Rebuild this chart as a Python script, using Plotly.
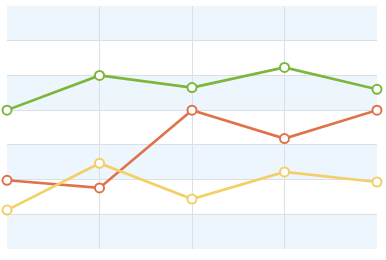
import plotly.graph_objects as go

categories = ["A", "B", "C", "D", "E"]
green = [4.0, 5.0, 4.65, 5.23, 4.6]
orange = [1.98, 1.76, 4.0, 3.18, 4.0]
yellow = [1.12, 2.47, 1.44, 2.22, 1.93]
band_rows = [0, 2, 4, 6]

series = [
    ("Green", green, "#7cb63a"),
    ("Orange", orange, "#e0714b"),
    ("Yellow", yellow, "#f3d066"),
]

fig = go.Figure()
for name, vals, col in series:
    fig.add_trace(go.Scatter(
        x=list(range(len(categories))), y=vals, name=name, mode="lines+markers",
        line=dict(color=col, width=2.6),
        marker=dict(symbol="circle", size=9, color="white", line=dict(color=col, width=2)),
        cliponaxis=False,
    ))

shapes = []
for r in band_rows:
    shapes.append(dict(type="rect", xref="paper", yref="y", x0=0, x1=1, y0=r, y1=r + 1,
                       fillcolor="#edf5fd", line=dict(width=0), layer="below"))

fig.update_layout(
    width=386, height=260,
    margin=dict(l=7, r=9, t=6, b=11),
    paper_bgcolor="white", plot_bgcolor="white",
    showlegend=False,
    shapes=shapes,
    xaxis=dict(range=[0, 4], showgrid=True, gridcolor="#dbe0e7", gridwidth=1,
               zeroline=False, showticklabels=False, ticks="", dtick=1,
               showline=False),
    yaxis=dict(range=[0, 7], showgrid=True, gridcolor="#dbe0e7", gridwidth=1,
               zeroline=False, showticklabels=False, ticks="", dtick=1,
               showline=False),
)
fig.write_html("out.html")
